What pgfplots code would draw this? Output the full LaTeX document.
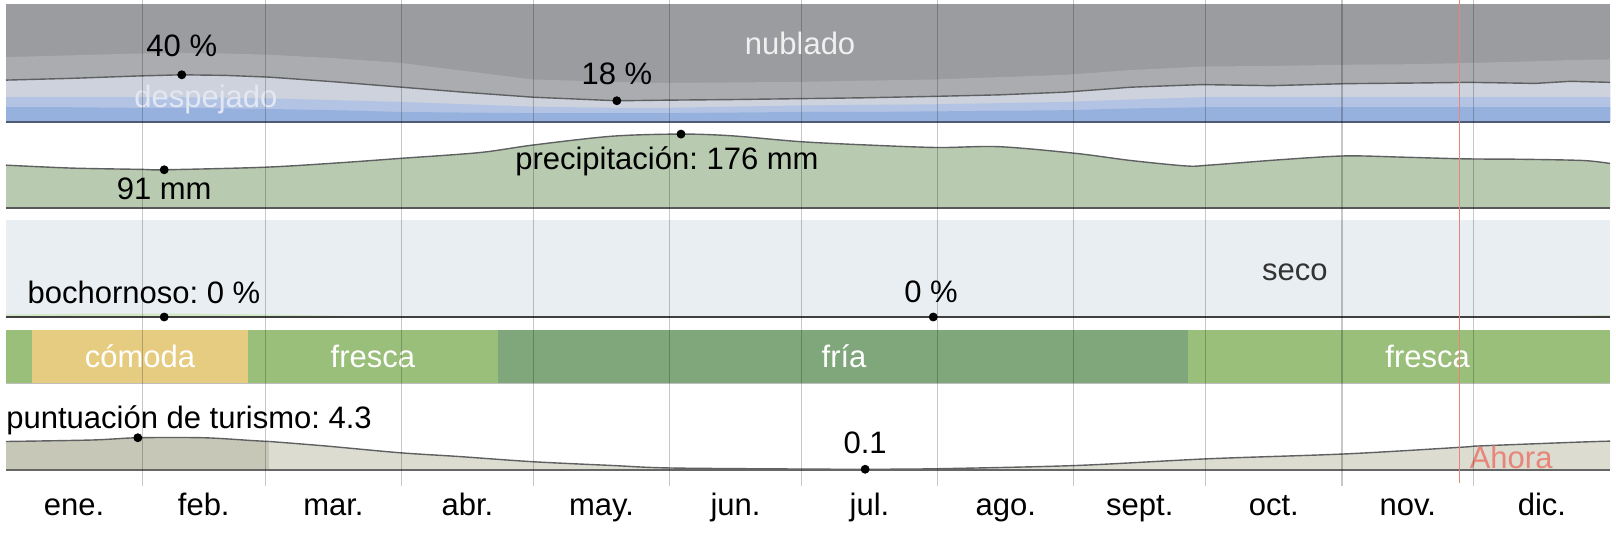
\documentclass[border=0pt]{standalone}
\usepackage{fontspec}
\setmainfont{Liberation Sans}
\usepackage{pgfplots}
\usepackage{pgfplotstable}
\pgfplotsset{compat=1.18}
\frenchspacing

\definecolor{overcast}{HTML}{9A9C9F}
\definecolor{mcloudy}{HTML}{AAACB0}
\definecolor{pcloudy}{HTML}{CDD2DC}
\definecolor{mclear}{HTML}{B3C3E3}
\definecolor{clear}{HTML}{97B1DF}
\definecolor{precip}{HTML}{B8CBB0}
\definecolor{humbg}{HTML}{E9EEF2}
\definecolor{humgreen}{HTML}{D2E7C4}
\definecolor{comoda}{HTML}{E6CC80}
\definecolor{fresca}{HTML}{99BF7B}
\definecolor{fria}{HTML}{80A77B}
\definecolor{tourdark}{HTML}{C6C7B6}
\definecolor{tourlight}{HTML}{DCDDD0}
\definecolor{ahora}{HTML}{E8857A}
\definecolor{curve}{HTML}{5F6062}
\definecolor{cloudbase}{HTML}{505A73}
\definecolor{despej}{HTML}{E2E8F3}

\newcommand\lbl{\fontsize{15.5}{18}\selectfont}

% cloud cover, cumulative % from the bottom
\pgfplotstableread{
day L B4 B2 B1
0 35.5 55 21 12.5
15 37 56.5 21 12.5
30 39 58 21 12
40 40 58.5 21 12
50 39.5 58 20.5 11.5
60 38 57 20 11
75 34 54 18.5 10
90 29.5 50 17 8.5
105 25 43 15 8
120 21 36 13 7.5
139 18 34 12 7.5
150 18.5 33 12 7.5
165 19 33.5 13 8
181 19.8 34 14 8.5
195 20.5 35 14.5 8.5
211 21.7 36 15 9
226 23 38 16 9.5
241 25.3 40 17 10
256 29.5 44 19 11.5
272 31.7 47 21 12.5
288 30.8 47.5 21 12.5
305 32.5 48.5 21 12.5
320 33 49 21 12.5
333 33.6 50 21 12.5
348 32.7 51.5 21 12.5
356 34.5 52.5 21 12.5
365 33.6 53 21 12.5
}\cloud

% precipitation, mm
\pgfplotstableread{
day mm
0 102
15 95
30.5 92
36 91
58.7 97
75 107
89.6 118
107.8 132
120 150
138 171
153.6 176
165 172
180.7 158
196 150
212 144
226 146
243.5 130
256 113
268.7 100
273.7 102
290 115
304.7 124
318 121
332 117
345 116
359 113
365 106
}\precip

% tourism score
\pgfplotstableread{
day s
0 3.8
19.6 4.0
30 4.3
45 4.3
56.7 3.9
60 3.8
}\tourA
\pgfplotstableread{
day s
60 3.8
72.8 3.2
89.6 2.3
103 1.8
120 1.1
138 0.6
151 0.27
180.7 0.13
195.5 0.1
212 0.17
243.5 0.6
273.7 1.5
305 2.15
331.5 3.05
335 3.2
357 3.7
365 3.85
}\tourB

\pgfplotsset{panel/.style={scale only axis, width=802pt, xmin=0, xmax=365,
  axis lines=none, ticks=none, clip=false, anchor=south west}}

\begin{document}
\begin{tikzpicture}
\path[use as bounding box] (0,0) rectangle (808pt,268pt);

% cloud cover
\begin{axis}[panel, at={(3pt,207pt)}, height=59pt, ymin=0, ymax=100]
\addplot[fill=overcast, draw=none] coordinates {(0,100) (365,100)} \closedcycle;
\addplot[fill=mcloudy, draw=none] table[x=day, y=B4] {\cloud} \closedcycle;
\addplot[fill=pcloudy, draw=none] table[x=day, y=L] {\cloud} \closedcycle;
\addplot[fill=mclear, draw=none] table[x=day, y=B2] {\cloud} \closedcycle;
\addplot[fill=clear, draw=none] table[x=day, y=B1] {\cloud} \closedcycle;
\addplot[curve, line width=0.7pt] table[x=day, y=L] {\cloud};
\addplot[cloudbase, line width=1pt] coordinates {(0,0) (365,0)};
\addplot[only marks, mark=*, mark size=2pt, black] coordinates {(40,40) (139,18)};
\node[font=\lbl, text=white!94!black] at (axis cs:180.7,67) {nublado};
\node[font=\lbl, text=despej] at (axis cs:45.5,19.5) {despejado};
\node[font=\lbl] at (axis cs:40,64.4) {40 \%};
\node[font=\lbl] at (axis cs:139,40.7) {18 \%};
\end{axis}

% precipitation
\begin{axis}[panel, at={(3pt,164pt)}, height=42pt, ymin=0, ymax=200]
\addplot[fill=precip, draw=none, smooth] table[x=day, y=mm] {\precip} \closedcycle;
\addplot[curve, line width=0.7pt, smooth] table[x=day, y=mm] {\precip};
\addplot[black!65, line width=0.75pt] coordinates {(0,0) (365,0)};
\addplot[only marks, mark=*, mark size=2pt, black] coordinates {(36,91) (153.6,176)};
\node[font=\lbl] at (axis cs:36,45) {91 mm};
\node[font=\lbl] at (axis cs:150.4,110) {precipitación: 176 mm};
\end{axis}

% humidity
\begin{axis}[panel, at={(3pt,109.5pt)}, height=48.5pt, ymin=0, ymax=100]
\addplot[fill=humbg, draw=none] coordinates {(0,100) (365,100)} \closedcycle;
\addplot[fill=humgreen, draw=none, smooth] coordinates {(0,2.5) (20,3.5) (40,3.5) (60,2.5) (80,1) (95,0.2) (110,0)} \closedcycle;
\addplot[fill=humgreen, draw=none, smooth] coordinates {(330,0) (345,0.8) (365,2)} \closedcycle;
\addplot[black!75, line width=0.75pt] coordinates {(0,0) (365,0)};
\addplot[only marks, mark=*, mark size=2pt, black] coordinates {(36,0) (211,0)};
\node[font=\lbl] at (axis cs:31.4,25.8) {bochornoso: 0 \%};
\node[font=\lbl] at (axis cs:210.5,25.8) {0 \%};
\node[font=\lbl, text=black!80] at (axis cs:293.3,46.4) {seco};
\end{axis}

% temperature band
\begin{axis}[panel, at={(3pt,76.5pt)}, height=26.5pt, ymin=0, ymax=1]
\addplot[fill=fresca, draw=none] coordinates {(0,0) (0,1) (6,1) (6,0)} -- cycle;
\addplot[fill=comoda, draw=none] coordinates {(6,0) (6,1) (55,1) (55,0)} -- cycle;
\addplot[fill=fresca, draw=none] coordinates {(55,0) (55,1) (112,1) (112,0)} -- cycle;
\addplot[fill=fria, draw=none] coordinates {(112,0) (112,1) (269,1) (269,0)} -- cycle;
\addplot[fill=fresca, draw=none] coordinates {(269,0) (269,1) (365,1) (365,0)} -- cycle;
\addplot[black!25, line width=0.5pt] coordinates {(0,0) (365,0)};
\node[font=\lbl, text=white] at (axis cs:30.5,0.5) {cómoda};
\node[font=\lbl, text=white] at (axis cs:83.5,0.5) {fresca};
\node[font=\lbl, text=white] at (axis cs:190.7,0.5) {fría};
\node[font=\lbl, text=white] at (axis cs:323.5,0.5) {fresca};
\end{axis}

% tourism score
\begin{axis}[panel, at={(3pt,33pt)}, height=37.5pt, ymin=0, ymax=10]
\addplot[fill=tourdark, draw=none, smooth] table[x=day, y=s] {\tourA} \closedcycle;
\addplot[fill=tourlight, draw=none, smooth] table[x=day, y=s] {\tourB} \closedcycle;
\addplot[curve, line width=0.7pt, smooth] table[x=day, y=s] {\tourA};
\addplot[curve, line width=0.7pt, smooth] table[x=day, y=s] {\tourB};
\addplot[black!60, line width=0.75pt] coordinates {(0,0) (365,0)};
\addplot[only marks, mark=*, mark size=2pt, black] coordinates {(30,4.3) (195.5,0.1)};
\node[font=\lbl, anchor=west, inner sep=0pt] at (axis cs:0,6.67) {puntuación de turismo: 4.3};
\node[font=\lbl] at (axis cs:195.5,3.6) {0.1};
\node[font=\lbl, text=ahora, anchor=west, inner sep=0pt] at (axis cs:333,1.73) {Ahora};
\end{axis}

% month grid, labels and the "now" line
\begin{axis}[scale only axis, anchor=south west, at={(3pt,25pt)}, width=802pt, height=243pt,
  xmin=0, xmax=365, ymin=0, ymax=1,
  axis line style={draw=none}, major tick length=0pt, minor tick length=0pt,
  ytick=\empty,
  xtick={15.5,45,74.5,105,135.5,166,196.5,227.5,258,288.5,319,349.5},
  xticklabels={ene.,feb.,mar.,abr.,may.,jun.,jul.,ago.,sept.,oct.,nov.,dic.},
  xticklabel style={font=\lbl, anchor=base, yshift=-14.5pt},
  minor xtick={31,59,90,120,151,181,212,243,273,304,334},
  xminorgrids=true,
  minor grid style={black, opacity=0.22, line width=0.6pt}]
\addplot[ahora, line width=0.75pt] coordinates {(330.7,0.006) (330.7,1)};
\end{axis}
\end{tikzpicture}
\end{document}
